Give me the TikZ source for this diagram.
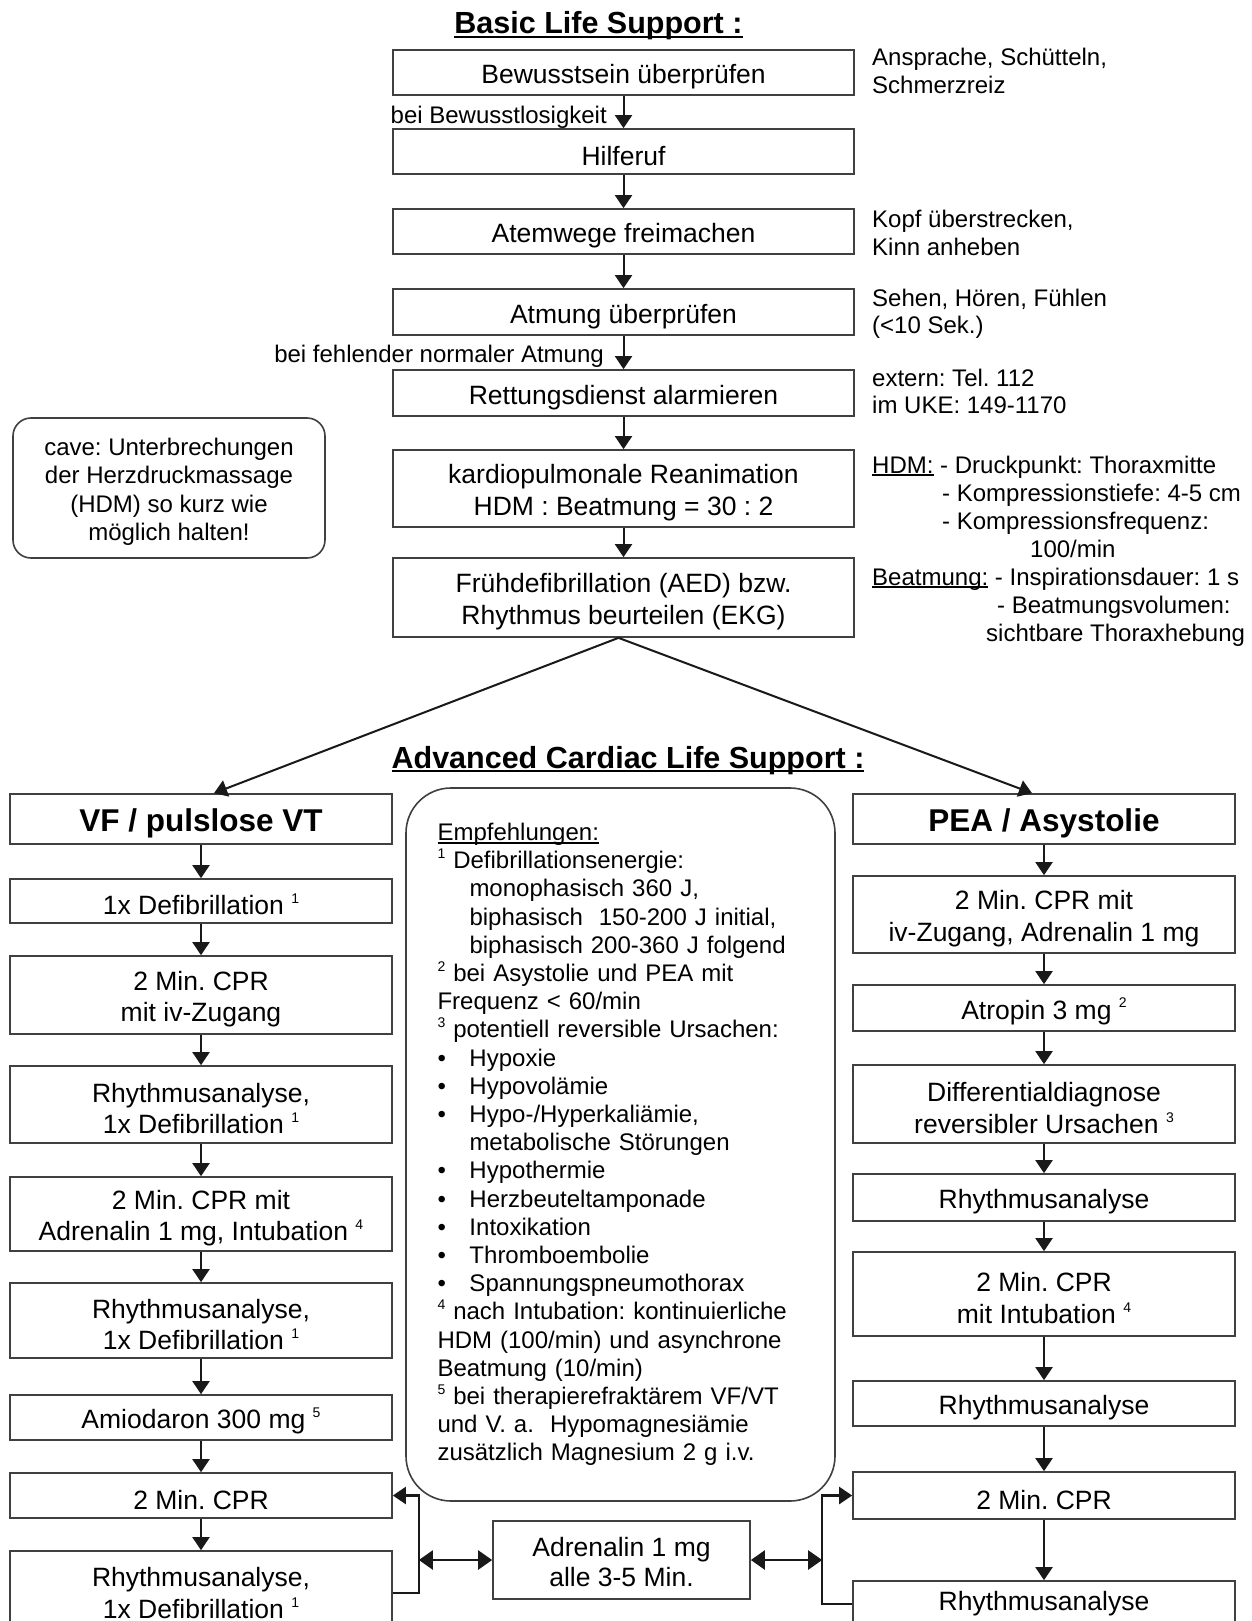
\documentclass[tikz,border=0pt]{standalone}
\usepackage{fontspec}
\setmainfont{Liberation Sans}
\usetikzlibrary{arrows.meta}
\setlength\parindent{0pt}
\frenchspacing
\newcommand\fnm[1]{\smash{\raisebox{0.42em}{\fontsize{14}{14}\selectfont #1}}}
\newcommand\ulx[1]{\begingroup\setbox0=\hbox{#1}\rlap{\rule[-0.13em]{\wd0}{0.07em}}\box0\endgroup}
\newcommand\lft{\rule{0pt}{27.5pt}}
\newcommand\lfth{\rule{0pt}{31pt}}
\begin{document}
\frenchspacing
\begin{tikzpicture}[x=1pt,y=-1pt,
  box/.style={draw=black!75, line width=1.7pt, inner sep=0pt, align=center, text=black, font=\fontsize{26.5}{31.5}\selectfont},
  bls/.style={box, minimum width=461pt},
  colbox/.style={box, minimum width=382pt},
  headbox/.style={colbox, font=\bfseries\fontsize{31.5}{36}\selectfont, text=black},
  smalltxt/.style={inner sep=0pt, text=black, font=\fontsize{24}{28.2}\selectfont},
  ttl/.style={inner sep=0pt, text=black, font=\bfseries\fontsize{30.5}{36}\selectfont},
  arr/.style={line width=2pt, draw=black!90, -{Triangle[length=13pt,width=17pt]}},
  cycarr/.style={line width=2.4pt, draw=black!90, -{Triangle[length=13pt,width=17pt]}},
  darr/.style={line width=2.4pt, draw=black!90, {Triangle[length=14pt,width=19pt]}-{Triangle[length=14pt,width=19pt]}},
]
\clip (0,0) rectangle (1251,1621);
\fill[white] (0,0) rectangle (1251,1621);

% ---------- Basic Life Support ----------
\node[ttl, anchor=base] (t1) at (598.5,34) {\ulx{Basic Life Support :}};
\node[bls, minimum height=45pt] (b1) at (623.5,72.5) {\lft Bewusstsein überprüfen};
\node[bls, minimum height=45pt] (b2) at (623.5,151.5) {\lft Hilferuf};
\node[bls, minimum height=45pt] (b3) at (623.5,231.5) {\lft Atemwege freimachen};
\node[bls, minimum height=46pt] (b4) at (623.5,312) {\lft Atmung überprüfen};
\node[bls, minimum height=46pt] (b5) at (623.5,393) {\lft Rettungsdienst alarmieren};
\node[bls, minimum height=77pt] (b6) at (623.5,488.5) {\lft kardiopulmonale Reanimation\\HDM : Beatmung = 30 : 2};
\node[bls, minimum height=79pt] (b7) at (623.5,597.5) {\lft Frühdefibrillation (AED) bzw.\\Rhythmus beurteilen (EKG)};

\foreach \a/\b in {b1/b2,b2/b3,b3/b4,b4/b5,b5/b6,b6/b7}
  \draw[arr] (\a.south) -- (\b.north);

\node[smalltxt, anchor=base east] (lb1) at (607,124) {bei Bewusstlosigkeit};
\node[smalltxt, anchor=base east] (lb2) at (604,362) {bei fehlender normaler Atmung};

% annotations right
\node[smalltxt, anchor=base west] (a1) at (872,66) {Ansprache, Schütteln,};
\node[smalltxt, anchor=base west] (a2) at (872,94) {Schmerzreiz};
\node[smalltxt, anchor=base west] (a3) at (872,228) {Kopf überstrecken,};
\node[smalltxt, anchor=base west] (a4) at (872,255) {Kinn anheben};
\node[smalltxt, anchor=base west] (a5) at (872,306) {Sehen, Hören, Fühlen};
\node[smalltxt, anchor=base west] (a6) at (872,333) {(<10 Sek.)};
\node[smalltxt, anchor=base west] (a7) at (872,386) {extern: Tel. 112};
\node[smalltxt, anchor=base west] (a8) at (872,413) {im UKE: 149-1170};
\node[smalltxt, anchor=base west] (h1) at (872,473) {\ulx{HDM:} - Druckpunkt: Thoraxmitte};
\node[smalltxt, anchor=base west] (h2) at (942,501) {- Kompressionstiefe: 4-5 cm};
\node[smalltxt, anchor=base west] (h3) at (942,529) {- Kompressionsfrequenz:};
\node[smalltxt, anchor=base west] (h4) at (1030,557) {100/min};
\node[smalltxt, anchor=base west] (h5) at (872,585) {\ulx{Beatmung:} - Inspirationsdauer: 1 s};
\node[smalltxt, anchor=base west] (h6) at (997,613) {- Beatmungsvolumen:};
\node[smalltxt, anchor=base west] (h7) at (986,641) {sichtbare Thoraxhebung};

% cave box
\node[smalltxt, draw=black!75, line width=1.6pt, rounded corners=18pt, minimum width=312pt, minimum height=140pt, align=center, font=\fontsize{24}{28.5}\selectfont] (cave) at (169,488) {\rule{0pt}{24.5pt}cave: Unterbrechungen\\der Herzdruckmassage\\(HDM) so kurz wie\\möglich halten!};

% ---------- Advanced Cardiac Life Support ----------
\node[ttl, anchor=base] (t2) at (628,768) {\ulx{Advanced Cardiac Life Support :}};

% left column
\node[headbox, minimum height=50pt] (l1) at (201,819) {\lfth VF / pulslose VT};
\node[colbox, minimum height=44pt] (l2) at (201,901) {\lft 1x Defibrillation \fnm{1}};
\node[colbox, minimum height=78pt] (l3) at (201,995) {\lft 2 Min. CPR\\mit iv-Zugang};
\node[colbox, minimum height=77pt] (l4) at (201,1104.5) {\lft Rhythmusanalyse,\\1x Defibrillation \fnm{1}};
\node[colbox, minimum height=74pt] (l5) at (201,1214) {\lft 2 Min. CPR mit\\Adrenalin 1 mg, Intubation \fnm{4}};
\node[colbox, minimum height=75pt] (l6) at (201,1320.5) {\lft Rhythmusanalyse,\\1x Defibrillation \fnm{1}};
\node[colbox, minimum height=45pt] (l7) at (201,1417.5) {\lft Amiodaron 300 mg \fnm{5}};
\node[colbox, minimum height=45pt] (l8) at (201,1495.5) {\lft 2 Min. CPR};
\node[colbox, minimum height=84pt] (l9) at (201,1593) {Rhythmusanalyse,\\1x Defibrillation \fnm{1}};

% right column
\node[headbox, minimum height=50pt] (r1) at (1044,819) {\lfth PEA / Asystolie};
\node[colbox, minimum height=77pt] (r2) at (1044,914.5) {\lft 2 Min. CPR mit\\iv-Zugang, Adrenalin 1 mg};
\node[colbox, minimum height=46pt] (r3) at (1044,1008) {\lft Atropin 3 mg \fnm{2}};
\node[colbox, minimum height=78pt] (r4) at (1044,1104) {\lft Differentialdiagnose\\reversibler Ursachen \fnm{3}};
\node[colbox, minimum height=47pt] (r5) at (1044,1197.5) {\lft Rhythmusanalyse};
\node[colbox, minimum height=84pt] (r6) at (1044,1294) {\lft 2 Min. CPR\\mit Intubation \fnm{4}};
\node[colbox, minimum height=45pt] (r7) at (1044,1403.5) {\lft Rhythmusanalyse};
\node[colbox, minimum height=47pt] (r8) at (1044,1495.5) {\lft 2 Min. CPR};
\node[colbox, minimum height=46pt] (r9) at (1044,1604) {Rhythmusanalyse};

\foreach \a/\b in {l1/l2,l2/l3,l3/l4,l4/l5,l5/l6,l6/l7,l7/l8,l8/l9,r1/r2,r2/r3,r3/r4,r4/r5,r5/r6,r6/r7,r7/r8,r8/r9}
  \draw[arr] (\a.south) -- (\b.north);

% branches
\draw[arr] ([xshift=-5pt]b7.south) -- ([xshift=13pt]l1.north);
\draw[arr] ([xshift=-5pt]b7.south) -- ([xshift=-12pt]r1.north);

% recommendations box
\node[smalltxt, draw=black!75, line width=1.6pt, rounded corners=45pt, minimum height=713pt, text width=366pt, inner xsep=31.5pt, align=left] (fn) at (620.5,1144.5) {%
\ulx{Empfehlungen:}\\
\fnm{1} Defibrillationsenergie:\\
\hspace*{32pt}monophasisch 360 J,\\
\hspace*{32pt}biphasisch\ \ 150-200 J initial,\\
\hspace*{32pt}biphasisch 200-360 J folgend\\
\fnm{2} bei Asystolie und PEA mit\\
Frequenz < 60/min\\
\fnm{3} potentiell reversible Ursachen:\\
\makebox[32pt][l]{•}Hypoxie\\
\makebox[32pt][l]{•}Hypovolämie\\
\makebox[32pt][l]{•}Hypo-/Hyperkaliämie,\\
\hspace*{32pt}metabolische Störungen\\
\makebox[32pt][l]{•}Hypothermie\\
\makebox[32pt][l]{•}Herzbeuteltamponade\\
\makebox[32pt][l]{•}Intoxikation\\
\makebox[32pt][l]{•}Thromboembolie\\
\makebox[32pt][l]{•}Spannungspneumothorax\\
\fnm{4} nach Intubation: kontinuierliche\\
HDM (100/min) und asynchrone\\
Beatmung (10/min)\\
\fnm{5} bei therapierefraktärem VF/VT\\
und V. a.\ \ Hypomagnesiämie\\
zusätzlich Magnesium 2 g i.v.};

% adrenalin
\node[box, minimum width=257pt, minimum height=78pt, font=\fontsize{26.5}{30}\selectfont] (adr) at (621.5,1560) {\rule{0pt}{24pt}Adrenalin 1 mg\\alle 3-5 Min.};

\draw[cycarr] (l9.east) -- ++(26,0) coordinate (lj) |- (l8.east);
\draw[darr] (lj |- adr.west) -- (adr.west);
\draw[cycarr] (r9.west) -- ++(-30,0) coordinate (rj) |- (r8.west);
\draw[darr] (adr.east) -- (rj |- adr.east);
\end{tikzpicture}
\end{document}
